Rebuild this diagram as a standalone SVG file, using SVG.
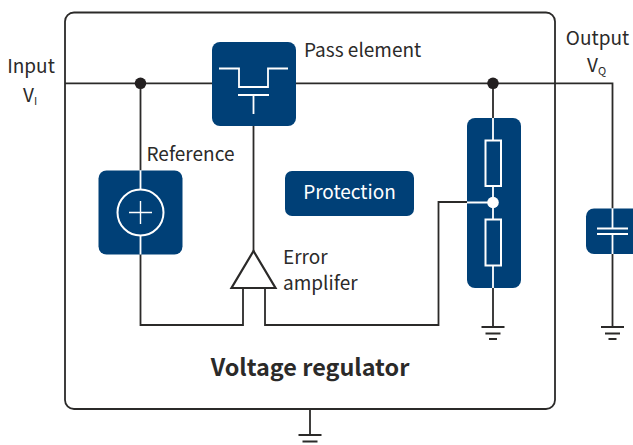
<svg xmlns="http://www.w3.org/2000/svg" width="633" height="445" viewBox="0 0 633 445">
<style>
text{font-family:"Noto Sans CJK SC","Noto Sans",sans-serif;font-size:19px;fill:#2b2a29}
.w{fill:none;stroke:#2b2a29;stroke-width:1.8}
.b{fill:#004077}
.l{fill:none;stroke:#fff;stroke-width:1.8}
.lt{fill:#fff}
.g{stroke:#2b2a29;stroke-width:2.2;fill:none}
</style>
<defs>
<g id="gnd">
<path class="g" d="M-11.500 0H11.500M-7.500 6.500H7.500M-4 12H4"/>
</g>
</defs>
<rect id="regulator" x="65" y="12.500" width="490" height="396.500" rx="9" fill="#fff" stroke="#2b2a29" stroke-width="1.800"/>
<g id="connectors">
<path class="w" d="M65 83.300H612.500V208"/>
<path class="w" d="M140.500 83.300V170M140.500 254V325H243V288"/>
<path class="w" d="M253.500 126V251"/>
<path class="w" d="M265 288V325H438.500V202H467"/>
<path class="w" d="M493 83.300V118M493 288V327"/>
<path class="w" d="M612.500 254V327"/>
<path class="w" d="M310 409V435"/>
<circle cx="140.500" cy="83.300" r="5.800" fill="#231f20"/>
<circle cx="493" cy="83.300" r="5.800" fill="#231f20"/>
</g>
<g id="pass-element">
<rect class="b" x="212" y="42" width="84" height="84" rx="8"/>
<path class="l" d="M219 68.500H239V87H268V68.500H288M238 95H269M253.500 95V114"/>
<text x="304" y="57">Pass element</text>
</g>
<g id="reference">
<rect class="b" x="98.500" y="170.500" width="84" height="84" rx="8"/>
<circle cx="140.500" cy="212.500" r="23" fill="none" stroke="#fff" stroke-width="2"/>
<path class="l" d="M140.500 170.500V189.500M140.500 235.500V254.500"/>
<path d="M129 212.500H152M140.500 201V224" fill="none" stroke="#fff" stroke-width="1.400"/>
<text x="146.500" y="161">Reference</text>
</g>
<g id="protection">
<rect class="b" x="285" y="171" width="129" height="45" rx="7"/>
<text x="349.500" y="199" text-anchor="middle" style="fill:#fff">Protection</text>
</g>
<g id="error-amplifier">
<path d="M253.500 251L231.500 288H275.500Z" fill="#fff" stroke="#2b2a29" stroke-width="2.200"/>
<text x="283" y="264">Error</text>
<text x="283" y="290">amplifer</text>
</g>
<g id="divider">
<rect class="b" x="467" y="118" width="54" height="170" rx="8"/>
<path class="l" d="M493 118V140M493 186V219M493 265.500V288M467 202.500H493"/>
<rect x="485.500" y="140.500" width="15.500" height="45.500" fill="none" stroke="#fff" stroke-width="2"/>
<rect x="485.500" y="219.500" width="15.500" height="46" fill="none" stroke="#fff" stroke-width="2"/>
<circle class="lt" cx="493" cy="202.500" r="5.800"/>
</g>
<g id="capacitor">
<path class="b" d="M633 208.500H594a8 8 0 0 0-8 8V246a8 8 0 0 0 8 8H633Z"/>
<path class="l" d="M612.500 208.500V228.500M612.500 234V254M597 228.500H628M597 234H628"/>
</g>
<g id="grounds">
<use href="#gnd" x="493" y="327"/>
<use href="#gnd" x="612.500" y="327"/>
<use href="#gnd" x="310" y="435"/>
</g>
<g id="labels">
<text x="31" y="73" text-anchor="middle">Input</text>
<text x="23" y="102">V<tspan font-size="11" dy="3">I</tspan></text>
<text x="597.500" y="45" text-anchor="middle">Output</text>
<text x="587" y="72">V<tspan font-size="11" dy="3">Q</tspan></text>
<text x="310" y="376" text-anchor="middle" style="font-size:23.400px;font-weight:700">Voltage regulator</text>
</g>
</svg>
